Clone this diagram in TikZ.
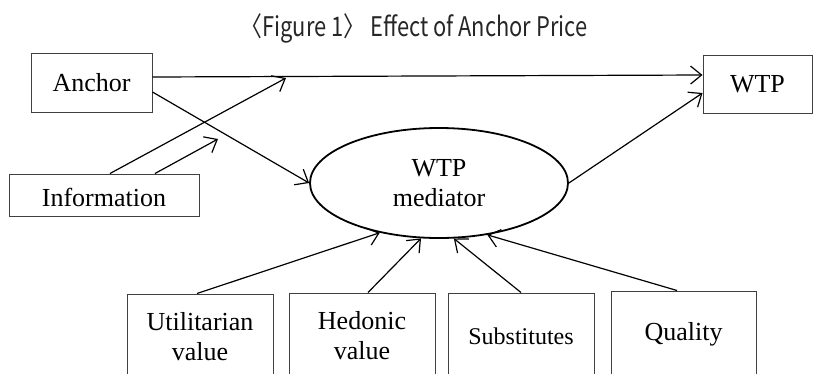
\documentclass[tikz,border=0pt]{standalone}
\usepackage{fontspec}
\setmainfont{Liberation Serif}
\newfontfamily\titlefont{Noto Sans CJK KR}
\usetikzlibrary{arrows.meta,shapes.geometric}
\begin{document}
\begin{tikzpicture}[x=1pt,y=-1pt,
  box/.style={draw=black!75, line width=1pt, rectangle, inner sep=0pt, align=center,
    font=\fontsize{26}{30}\selectfont},
  conn/.style={line width=1.2pt, -{Straight Barb[length=11pt,width=18pt,line width=1.2pt]}},
]
\useasboundingbox (0,0) rectangle (814,373);
\clip (0,0) rectangle (814,373);
\node[font=\titlefont\fontsize{27}{30}\selectfont, text=black!85] (title) at (414,28)
  {\scalebox{0.81}[1]{〈Figure 1〉 Effect of Anchor Price}};
\node[box, minimum width=121pt, minimum height=59pt] (anchor) at (91.5,82.5) {Anchor};
\node[box, minimum width=109pt, minimum height=58pt] (wtp) at (757.5,84) {WTP};
\node[box, minimum width=190pt, minimum height=42pt, text height=23pt] (info) at (104,195) {Information};
\node[ellipse, draw, line width=1.8pt, minimum width=258pt, minimum height=110pt, inner sep=0pt,
  align=center, font=\fontsize{26}{30}\selectfont] (med) at (439,183) {WTP\\mediator};
\node[box, minimum width=146pt, minimum height=86pt] (util) at (200,337) {Utilitarian\\value};
\node[box, minimum width=146pt, minimum height=86pt] (hed) at (362,336) {Hedonic\\value};
\node[box, minimum width=146pt, minimum height=86pt, font=\fontsize{24}{28}\selectfont] (subs) at (521,336) {Substitutes};
\node[box, minimum width=145pt, minimum height=86pt] (qual) at (683.5,334) {Quality};
\coordinate (c1) at (286,78);
\coordinate (c2) at (218,139);
\draw[conn] ([yshift=5.5pt]anchor.east) -- ([yshift=9pt]wtp.west);
\draw[conn] ([yshift=-9.5pt]anchor.east) -- (med.west);
\draw[conn] ([xshift=6pt]info.north) -- (c1);
\draw[conn] ([xshift=51pt]info.north) -- (c2);
\draw[conn] (med.east) -- ([yshift=-9pt]wtp.west);
\draw[conn] ([xshift=-3pt]util.north) -- (med.220);
\draw[conn] ([xshift=6pt]hed.north) -- (med.252);
\draw[conn] (subs.north) -- (med.285);
\draw[conn] ([xshift=-6.5pt]qual.north) -- (med.313);
\end{tikzpicture}
\end{document}
